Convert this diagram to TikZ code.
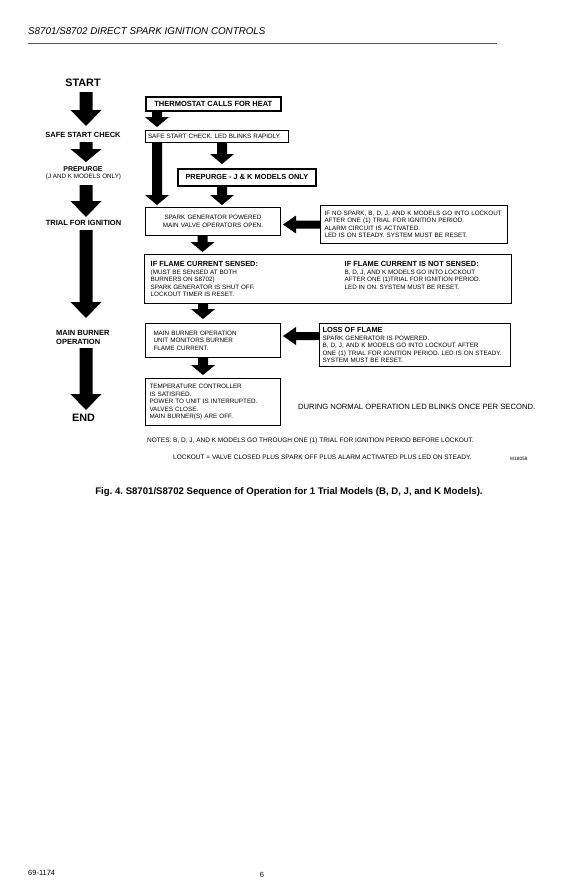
\documentclass[tikz,border=0pt]{standalone}
\usepackage{fontspec}
\setmainfont{Liberation Sans}
\usetikzlibrary{calc}
\frenchspacing
\newcommand{\fs}[2]{\fontsize{#1}{#2}\selectfont}
\tikzset{
  dnarrow/.style n args={4}{to path={let \p1=(\tikztostart), \p2=(\tikztotarget) in
    (\x1-#1,\y1) -- (\x1-#1,\y2+#4+#3) -- (\x1-#2,\y2+#4+#3) -- (\x1,\y2+#4)
    -- (\x1+#2,\y2+#4+#3) -- (\x1+#1,\y2+#4+#3) -- (\x1+#1,\y1) -- cycle}},
  lfarrow/.style n args={4}{to path={let \p1=(\tikztostart), \p2=(\tikztotarget) in
    (\x1,\y1-#1) -- (\x2+#4+#3,\y1-#1) -- (\x2+#4+#3,\y1-#2) -- (\x2+#4,\y1)
    -- (\x2+#4+#3,\y1+#2) -- (\x2+#4+#3,\y1+#1) -- (\x1,\y1+#1) -- cycle}},
  bigdown/.style={dnarrow={6.5pt}{15.5pt}{16pt}{0pt}},
  smalldown/.style={dnarrow={5pt}{12pt}{10pt}{#1}},
  sideleft/.style={lfarrow={4pt}{9pt}{13pt}{2pt}},
  box/.style={draw, line width=1pt, inner ysep=0pt, anchor=north west, align=left, font=\fs{6.3}{7.5}},
  thickbox/.style={box, line width=1.7pt, align=center, font=\bfseries\fs{7.5}{9}},
  lab/.style={font=\bfseries\fs{7.5}{9}, align=center},
  txt/.style={anchor=north west, align=left, inner sep=0pt, font=\fs{6.3}{7.5}},
}
\begin{document}
\begin{tikzpicture}[x=1pt,y=-1pt]
\useasboundingbox (0,0) rectangle (577,892);
\fill[white] (0,0) rectangle (577,892);

% header
\node[anchor=west, font=\itshape\fs{9.8}{12}, inner sep=0pt] (hdr) at (28,31) {S8701/S8702 DIRECT SPARK IGNITION CONTROLS};
\coordinate (rl) at (28,43.5);
\coordinate (rr) at (497,43.5);
\draw[black!65, line width=1.5pt] (rl) -- (rr);

% left column labels
\node[lab, font=\bfseries\fs{10.8}{12}] (start) at (83,83) {START};
\node[lab] (ssc) at (83,135) {SAFE START CHECK};
\node[lab, font=\bfseries\fs{7}{8}] (prep) at (83,169) {PREPURGE};
\node[font=\fs{6.3}{7.5}] (prepb) at (83.5,177) {(J AND K MODELS ONLY)};
\node[lab] (tfi) at (83.5,223) {TRIAL FOR IGNITION};
\node[lab, align=left, anchor=west, inner sep=0pt, font=\bfseries\fs{7.5}{9}] (mbo) at (56,337.5) {MAIN BURNER\\OPERATION};
\node[lab, font=\bfseries\fs{10.8}{12}] (endl) at (83.5,418) {END};

% left column arrows
\coordinate (a1s) at (86,92);  \coordinate (a1e) at (86,126);
\coordinate (a2s) at (86,142); \coordinate (a2e) at (86,162);
\coordinate (a3s) at (86,185); \coordinate (a3e) at (86,217);
\coordinate (a4s) at (86,230); \coordinate (a4e) at (86,318);
\coordinate (a5s) at (86,348); \coordinate (a5e) at (86,410);
\fill (a1s) to[bigdown] (a1e);
\fill (a2s) to[dnarrow={6.5pt}{15.5pt}{13pt}{0pt}] (a2e);
\fill (a3s) to[bigdown] (a3e);
\fill (a4s) to[bigdown] (a4e);
\fill (a5s) to[bigdown] (a5e);

% right column boxes
\node[thickbox, minimum width=135pt, minimum height=14pt, inner xsep=0pt] (therm) at (145,96) {THERMOSTAT CALLS FOR HEAT};
\node[box, minimum width=143pt, minimum height=12pt, inner xsep=2.5pt, text width=138pt] (ss) at (145,130) {SAFE START CHECK. LED BLINKS RAPIDLY.};
\node[thickbox, minimum width=138pt, minimum height=17pt, inner xsep=0pt, font=\bfseries\fs{7.4}{9}] (pp) at (177,168) {PREPURGE - J \& K MODELS ONLY};
\node[box, align=center, minimum width=135pt, minimum height=28pt, inner xsep=4pt, text width=127pt] (spark) at (145,207) {SPARK GENERATOR POWERED\\MAIN VALVE OPERATORS OPEN.};
\node[box, minimum width=187pt, minimum height=38pt, inner xsep=4pt, text width=179pt] (ns) at (320,205) {IF NO SPARK, B, D, J, AND K MODELS GO INTO LOCKOUT\\AFTER ONE (1) TRIAL FOR IGNITION PERIOD.\\ALARM CIRCUIT IS ACTIVATED.\\LED IS ON STEADY. SYSTEM MUST BE RESET.};
\node[box, line width=1.3pt, minimum width=367pt, minimum height=49pt] (flame) at (144,254) {};
\node[txt] (fl1) at (150.5,261.5) {{\bfseries\fs{7.4}{8.5}IF FLAME CURRENT SENSED:}\\(MUST BE SENSED AT BOTH\\BURNERS ON S8702)\\SPARK GENERATOR IS SHUT OFF.\\LOCKOUT TIMER IS RESET.};
\node[txt] (fl2) at (344.5,261.5) {{\bfseries\fs{7.4}{8.5}IF FLAME CURRENT IS NOT SENSED:}\\B, D, J, AND K MODELS GO INTO LOCKOUT\\AFTER ONE (1)TRIAL FOR IGNITION PERIOD.\\LED IN ON. SYSTEM MUST BE RESET.};
\node[box, minimum width=135pt, minimum height=34pt, inner xsep=8pt, text width=119pt] (mb) at (145,323) {MAIN BURNER OPERATION\\UNIT MONITORS BURNER\\FLAME CURRENT.};
\node[box, minimum width=191pt, minimum height=43pt, inner xsep=3pt, text width=185pt] (loss) at (319,323) {{\bfseries\fs{7.4}{8.5}LOSS OF FLAME}\\SPARK GENERATOR IS POWERED.\\B, D, J, AND K MODELS GO INTO LOCKOUT AFTER\\ONE (1) TRIAL FOR IGNITION PERIOD. LED IS ON STEADY.\\SYSTEM MUST BE RESET.};
\node[box, minimum width=135pt, minimum height=47pt, inner xsep=4pt, text width=127pt] (temp) at (145,378) {TEMPERATURE CONTROLLER\\IS SATISFIED.\\POWER TO UNIT IS INTERRUPTED.\\VALVES CLOSE.\\MAIN BURNER(S) ARE OFF.};

% right column arrows
\coordinate (r1) at (157,110);
\coordinate (r2) at (157,142);
\coordinate (r3) at (222,142);
\coordinate (r4) at (222,185);
\coordinate (r5) at (202.5,235);
\coordinate (r6) at (203,303);
\coordinate (r7) at (203,357);
\coordinate (lossw) at (319,336);
\fill (r1) to[smalldown=3pt] (ss.north);
\fill (r2) to[smalldown=2pt] (spark.north);
\fill (r3) to[smalldown=4pt] (pp.north);
\fill (r4) to[smalldown=2pt] (spark.north);
\fill (r5) to[smalldown=2pt] (flame.north);
\fill (r6) to[smalldown=4pt] (mb.north);
\fill (r7) to[smalldown=3pt] (temp.north);
\fill (ns.west) to[sideleft] (spark.east);
\fill (lossw) to[sideleft] (mb.east);

% notes
\node[anchor=west, inner sep=0pt, font=\fs{7.65}{9}] (during) at (298,407) {DURING NORMAL OPERATION LED BLINKS ONCE PER SECOND.};
\node[anchor=west, inner sep=0pt, font=\fs{6.5}{7.5}] (n1) at (147,441) {NOTES: B, D, J, AND K MODELS GO THROUGH ONE (1) TRIAL FOR IGNITION PERIOD BEFORE LOCKOUT.};
\node[anchor=west, inner sep=0pt, font=\fs{6.5}{7.5}] (n2) at (173,457) {LOCKOUT = VALVE CLOSED PLUS SPARK OFF PLUS ALARM ACTIVATED PLUS LED ON STEADY.};
\node[anchor=west, inner sep=0pt, font=\fs{4.8}{6}] (mnum) at (510,459) {M18058};
\node[font=\bfseries\fs{9.6}{11}] (cap) at (289,492) {Fig. 4. S8701/S8702 Sequence of Operation for 1 Trial Models (B, D, J, and K Models).};

% footer
\node[anchor=west, inner sep=0pt, font=\fs{7.5}{9}] (ft) at (28,873) {69-1174};
\node[font=\fs{7.5}{9}] (pg) at (262,875) {6};
\end{tikzpicture}
\end{document}
